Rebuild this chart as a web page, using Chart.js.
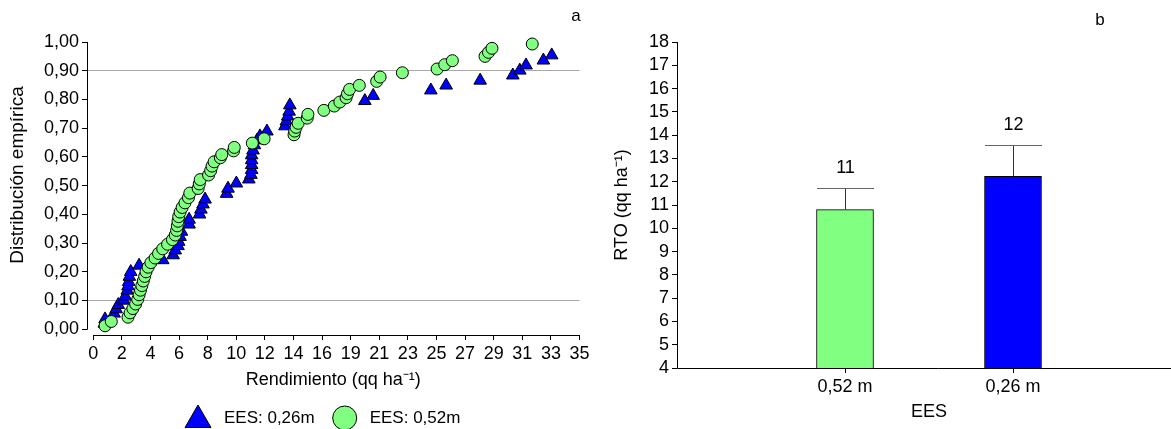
<!DOCTYPE html>
<html>
<head>
<meta charset="utf-8">
<script src="https://cdn.jsdelivr.net/npm/chart.js@4.4.1/dist/chart.umd.min.js"></script>
<style>
  html, body { margin: 0; padding: 0; background: #fff; width: 1171px; height: 429px; overflow: hidden; }
  #cdfBox { position: absolute; left: 0; top: 0; width: 600px; height: 429px; }
  #barBox { position: absolute; left: 600px; top: 0; width: 571px; height: 429px; overflow: hidden; }
  canvas { display: block; }
</style>
</head>
<body>
<div id="cdfBox"><canvas id="cdf" width="600" height="429"></canvas></div>
<div id="barBox"><canvas id="bars" width="600" height="429"></canvas></div>
<script>
// ---- Panel a: empirical distribution of yield ----
const seriesNames = ['EES: 0,26m', 'EES: 0,52m'];

// EES 0,26 m (triangles): yield (qq/ha) and cumulative fraction
const triYield = [0.8, 0.85, 1.5, 1.65, 1.8, 2.2, 2.3, 2.45, 2.5, 2.55,
                  2.6, 2.7, 3.3, 5.0, 5.75, 5.9, 6.1, 6.15, 6.25, 6.35,
                  6.9, 6.9, 7.65, 7.75, 7.9, 8.05, 9.6, 9.7, 10.3, 11.2,
                  11.35, 11.4, 11.4, 11.4, 11.4, 11.5, 11.6, 11.8, 12.0, 12.5,
                  13.8, 13.9, 14.0, 14.1, 14.15, 19.55, 20.15, 24.3, 25.4, 27.85,
                  30.2, 30.7, 31.15, 32.4, 33.0];
const triProb  = [0.02, 0.035, 0.055, 0.07, 0.085, 0.10, 0.115, 0.135, 0.15, 0.165,
                  0.183, 0.20, 0.222, 0.241, 0.258, 0.275, 0.29, 0.305, 0.322, 0.34,
                  0.365, 0.382, 0.40, 0.417, 0.435, 0.452, 0.472, 0.49, 0.508, 0.522,
                  0.538, 0.555, 0.572, 0.589, 0.606, 0.623, 0.641, 0.658, 0.672, 0.689,
                  0.707, 0.724, 0.741, 0.758, 0.78, 0.795, 0.813, 0.832, 0.849, 0.866,
                  0.884, 0.901, 0.919, 0.936, 0.954];

// EES 0,52 m (circles)
const circYield = [0.85, 1.3, 2.5, 2.65, 2.85, 3.05, 3.2, 3.3, 3.4, 3.5,
                   3.6, 3.7, 3.8, 3.95, 4.15, 4.45, 4.7, 5.0, 5.35, 5.7,
                   5.9, 6.0, 6.05, 6.1, 6.15, 6.25, 6.4, 6.6, 6.85, 6.95,
                   7.55, 7.63, 7.7, 8.3, 8.45, 8.55, 8.7, 9.15, 9.25, 10.1,
                   10.15, 11.45, 12.3, 14.45, 14.5, 14.6, 14.75, 15.4, 15.45, 16.6,
                   17.35, 17.75, 18.2, 18.3, 18.45, 19.15, 20.4, 20.65, 22.25, 24.75,
                   25.3, 25.85, 28.2, 28.45, 28.7, 31.6];
const circProb  = [0.012, 0.027, 0.042, 0.057, 0.072, 0.088, 0.104, 0.12, 0.136, 0.152,
                   0.168, 0.184, 0.2, 0.216, 0.232, 0.248, 0.264, 0.28, 0.296, 0.312,
                   0.328, 0.344, 0.36, 0.376, 0.392, 0.408, 0.424, 0.44, 0.458, 0.474,
                   0.49, 0.506, 0.521, 0.537, 0.552, 0.568, 0.583, 0.597, 0.608, 0.621,
                   0.633, 0.648, 0.663, 0.677, 0.69, 0.703, 0.717, 0.735, 0.748, 0.762,
                   0.777, 0.791, 0.806, 0.82, 0.835, 0.849, 0.863, 0.878, 0.893, 0.906,
                   0.921, 0.935, 0.95, 0.964, 0.978, 0.993];

const xTickLabels = ['0', '2', '4', '6', '8', '10', '12', '14', '16', '19',
                     '21', '23', '25', '27', '29', '31', '33', '35'];
const xMax = 35;
const yTickValues = [0, 0.1, 0.2, 0.3, 0.4, 0.5, 0.6, 0.7, 0.8, 0.9, 1.0];
const yTickLabels = ['0,00', '0,10', '0,20', '0,30', '0,40', '0,50',
                     '0,60', '0,70', '0,80', '0,90', '1,00'];
const refLines = [0.1, 0.9];

// ---- Panel b: mean yield per row spacing ----
const barCategories = ['0,52 m', '0,26 m'];
const barMeans  = [10.8, 12.23];
const barErrors = [0.92, 1.36];
const barColors = ['#80ff80', '#0000ff'];
const barTickValues = [4, 5, 6, 7, 8, 9, 10, 11, 12, 13, 14, 15, 16, 17, 18];

const FONT = "'Liberation Sans', Arial, sans-serif";
Chart.defaults.font.family = FONT;
Chart.defaults.font.size = 18;
Chart.defaults.color = '#000';

function toPoints(xs, ys) { return xs.map((v, i) => ({ x: v, y: ys[i] })); }

// axis lines, y title, legend and panel letter for the distribution panel
const cdfFrame = {
  id: 'cdfFrame',
  beforeDatasetsDraw(chart) {
    const { ctx, chartArea, scales: { x, y } } = chart;
    ctx.save();
    ctx.strokeStyle = '#000';
    ctx.lineWidth = 1;
    ctx.beginPath();
    const ax = Math.round(chartArea.left) + 0.5;
    ctx.moveTo(ax, y.getPixelForValue(yTickValues[yTickValues.length - 1]));
    ctx.lineTo(ax, y.getPixelForValue(yTickValues[0]) + 0.5);
    const ay = Math.round(chartArea.bottom) + 0.5;
    ctx.moveTo(x.getPixelForValue(0), ay);
    ctx.lineTo(x.getPixelForValue(xMax), ay);
    ctx.stroke();
    ctx.restore();
  },
  afterDraw(chart) {
    const { ctx } = chart;
    ctx.save();
    // vertical axis title
    ctx.save();
    ctx.font = '19px ' + FONT;
    ctx.fillStyle = '#000';
    ctx.textAlign = 'center';
    ctx.textBaseline = 'middle';
    ctx.translate(18, 175);
    ctx.rotate(-Math.PI / 2);
    ctx.fillText(chart.options.scales.y.title.text, 0, 0);
    ctx.restore();
    // legend
    ctx.font = '17px ' + FONT;
    ctx.textBaseline = 'middle';
    const items = chart.data.datasets.map(ds => {
      const r = ds.pointStyle === 'triangle' ? 15 : 12;
      const w = ds.pointStyle === 'triangle' ? r * Math.sqrt(3) : 2 * r;
      return { ds, r, w, tw: ctx.measureText(ds.label).width };
    });
    const gapMark = 13, gapItem = 18;
    let cx = 185;
    const ly = 418;
    items.forEach(it => {
      ctx.fillStyle = it.ds.backgroundColor;
      ctx.strokeStyle = '#000';
      ctx.lineWidth = 1;
      const my = it.ds.pointStyle === 'triangle' ? ly + 2 : ly;
      Chart.helpers.drawPoint(ctx, { pointStyle: it.ds.pointStyle, radius: it.r, rotation: 0, borderWidth: 1 }, cx + it.w / 2, my);
      ctx.fillStyle = '#000';
      ctx.textAlign = 'left';
      ctx.fillText(it.ds.label, cx + it.w + gapMark, ly);
      cx += it.w + gapMark + it.tw + gapItem;
    });
    // panel letter
    ctx.textAlign = 'center';
    ctx.fillText('a', 576, 16);
    ctx.restore();
  }
};

new Chart(document.getElementById('cdf'), {
  type: 'scatter',
  data: {
    datasets: [
      {
        label: seriesNames[0],
        data: toPoints(triYield, triProb),
        pointStyle: 'triangle',
        pointRadius: 7.3,
        backgroundColor: '#0000ff',
        borderColor: '#000',
        borderWidth: 1,
        order: 1,
        clip: false
      },
      {
        label: seriesNames[1],
        data: toPoints(circYield, circProb),
        pointStyle: 'circle',
        pointRadius: 6,
        backgroundColor: '#80ff80',
        borderColor: '#000',
        borderWidth: 1,
        order: 0,
        clip: false
      }
    ]
  },
  options: {
    responsive: false,
    animation: false,
    layout: { padding: { top: 42, right: 20.5, bottom: 0, left: 0 } },
    plugins: { legend: { display: false }, tooltip: { enabled: false } },
    scales: {
      x: {
        type: 'linear',
        min: -0.45,
        max: xMax,
        afterBuildTicks: s => { s.ticks = xTickLabels.map((l, i) => ({ value: i * xMax / (xTickLabels.length - 1) })); },
        afterFit: s => { s.height = 94; },
        ticks: { autoSkip: false, maxRotation: 0, padding: 3, callback: (v, i) => xTickLabels[i] },
        grid: { drawOnChartArea: false, drawTicks: true, tickLength: 5, tickColor: '#000' },
        border: { display: false },
        title: { display: true, text: 'Rendimiento (qq ha\u207B\u00B9)', padding: { top: 0, bottom: 38 } }
      },
      y: {
        min: -0.02,
        max: 1.0,
        afterBuildTicks: s => { s.ticks = yTickValues.map(v => ({ value: v })); },
        afterFit: s => { s.width = 87; },
        ticks: { autoSkip: false, padding: 3, callback: (v, i) => yTickLabels[i] },
        grid: {
          drawOnChartArea: true,
          drawTicks: true,
          tickLength: 5,
          tickColor: '#000',
          color: c => (c.tick && refLines.some(r => Math.abs(c.tick.value - r) < 1e-9)) ? '#a8a8a8' : 'rgba(0,0,0,0)'
        },
        border: { display: false },
        title: { display: false, text: 'Distribución empírica' }
      }
    }
  },
  plugins: [cdfFrame]
});

// axis lines, error bars, value labels and panel letter for the bar panel
const barExtras = {
  id: 'barExtras',
  beforeDatasetsDraw(chart) {
    const { ctx, chartArea, scales: { y } } = chart;
    ctx.save();
    ctx.strokeStyle = '#000';
    ctx.lineWidth = 1;
    ctx.beginPath();
    const ax = Math.round(chartArea.left) + 0.5;
    ctx.moveTo(ax, y.getPixelForValue(barTickValues[barTickValues.length - 1]));
    ctx.lineTo(ax, Math.round(chartArea.bottom) + 0.5);
    const ay = Math.round(chartArea.bottom) + 0.5;
    ctx.moveTo(ax, ay);
    ctx.lineTo(chart.width, ay);
    ctx.stroke();
    ctx.restore();
  },
  afterDatasetsDraw(chart) {
    const { ctx, scales: { x, y } } = chart;
    const meta = chart.getDatasetMeta(0);
    ctx.save();
    barMeans.forEach((m, i) => {
      const px = Math.round(x.getPixelForValue(i + 1)) + 0.5;
      const half = meta.data[i].width / 2;
      const yTop = Math.round(y.getPixelForValue(m + barErrors[i])) + 0.5;
      const yBar = y.getPixelForValue(m);
      ctx.lineWidth = 1;
      ctx.strokeStyle = '#333';
      ctx.beginPath();
      ctx.moveTo(px, yBar);
      ctx.lineTo(px, yTop);
      ctx.stroke();
      ctx.strokeStyle = '#666';
      ctx.beginPath();
      ctx.moveTo(px - half, yTop);
      ctx.lineTo(px + half, yTop);
      ctx.stroke();
      ctx.fillStyle = '#000';
      ctx.font = '18px ' + FONT;
      ctx.textAlign = 'center';
      ctx.textBaseline = 'middle';
      ctx.fillText(String(Math.round(m)), px, yTop - 20.6);
    });
    ctx.restore();
  },
  afterDraw(chart) {
    const { ctx } = chart;
    ctx.save();
    ctx.font = '17px ' + FONT;
    ctx.fillStyle = '#000';
    ctx.textAlign = 'center';
    ctx.textBaseline = 'middle';
    ctx.fillText('b', 500, 20);
    ctx.restore();
  }
};

new Chart(document.getElementById('bars'), {
  type: 'bar',
  data: {
    datasets: [{
      label: 'RTO',
      data: barCategories.map((c, i) => ({ x: i + 1, y: barMeans[i] })),
      backgroundColor: barColors,
      borderColor: '#000',
      borderWidth: 1,
      borderSkipped: false,
      barThickness: 57
    }]
  },
  options: {
    responsive: false,
    animation: false,
    layout: { padding: { top: 42, right: 19, bottom: 0, left: 0 } },
    plugins: { legend: { display: false }, tooltip: { enabled: false } },
    scales: {
      x: {
        type: 'linear',
        min: 0,
        max: 3,
        offset: false,
        afterBuildTicks: s => { s.ticks = barCategories.map((c, i) => ({ value: i + 1 })); },
        afterFit: s => { s.height = 61; },
        ticks: { autoSkip: false, maxRotation: 0, padding: 3, callback: (v, i) => barCategories[i] },
        grid: { offset: false, drawOnChartArea: false, drawTicks: true, tickLength: 5, tickColor: '#000' },
        border: { display: false },
        title: { display: true, text: 'EES', padding: { top: 0, bottom: 6.5 } }
      },
      y: {
        min: 4,
        max: 18,
        afterBuildTicks: s => { s.ticks = barTickValues.map(v => ({ value: v })); },
        afterFit: s => { s.width = 77; },
        ticks: { autoSkip: false, padding: 3, callback: v => String(v) },
        grid: { drawOnChartArea: false, drawTicks: true, tickLength: 5, tickColor: '#000' },
        border: { display: false },
        title: { display: true, text: 'RTO (qq ha\u207B\u00B9)', padding: { top: 11, bottom: 0 } }
      }
    }
  },
  plugins: [barExtras]
});
</script>
</body>
</html>
